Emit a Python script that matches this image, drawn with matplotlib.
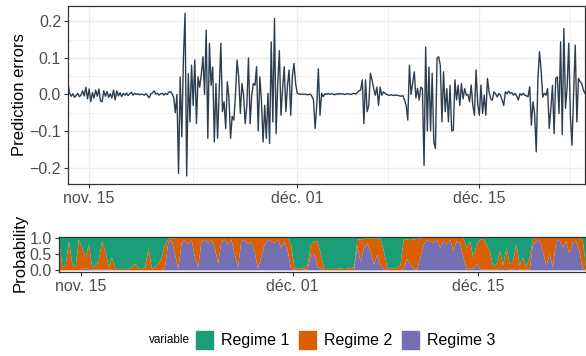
import numpy as np
import pandas as pd
import matplotlib
matplotlib.use("Agg")
import matplotlib.pyplot as plt
from matplotlib.patches import Rectangle

plt.rcParams['font.family'] = ['Liberation Sans', 'DejaVu Sans']

# ---- data -------------------------------------------------------------
err_start = "2017-11-13 09:00"      # 3-hourly prediction errors
errors = [
    0.030, 0.003, -0.005, 0.002, -0.008, -0.003, 0.003, -0.006, -0.002, 0.010,
    -0.004, 0.020, -0.012, 0.015, -0.020, 0.005, -0.010, 0.012, -0.005, 0.015,
    -0.018, -0.020, 0.010, -0.005, 0.008, -0.008, 0.002, -0.010, 0.012, -0.015,
    0.010, -0.004, 0.005, -0.006, 0.003, -0.002, 0.004, -0.003, 0.002, 0.006,
    -0.002, 0.003, 0.000, 0.002, -0.001, 0.001,
    0.000, -0.002, 0.002, -0.004, -0.009, 0.002, 0.004, 0.010, 0.001, 0.003,
    -0.002, 0.002, 0.003, -0.002, 0.003, 0.000, 0.006, 0.008, 0.002, -0.008,
    -0.050, 0.000, -0.216, 0.048, -0.116, 0.100, 0.222, -0.223, 0.057, -0.075,
    0.080, -0.030, 0.094, -0.080, 0.048, 0.020, 0.055, 0.103, 0.000, 0.176,
    -0.120, 0.140, 0.025, 0.075, -0.130, 0.030,
    -0.120, 0.010, 0.140, -0.047, -0.020, -0.093, 0.035, -0.010, -0.120, -0.060,
    -0.070, -0.002, 0.094, 0.048, -0.052, 0.030, -0.002, -0.080, -0.030, 0.100,
    -0.080, -0.002, 0.030, 0.025, 0.076, -0.100, 0.048, -0.020, -0.130, -0.030,
    -0.120, 0.003, -0.134, 0.144, -0.075, 0.208, -0.107, 0.030, 0.120, -0.057,
    0.016, 0.076, -0.047, 0.025, 0.067,
    -0.057, 0.050, 0.085, 0.030, 0.003, 0.002, 0.000, 0.001, 0.000, 0.001,
    -0.001, 0.000, 0.001, -0.005, -0.015, -0.093, -0.030, 0.070, -0.057, 0.003,
    -0.006, 0.002, 0.000, 0.003, 0.000, 0.002, 0.001, -0.001, 0.002, 0.000,
    0.003, 0.001, 0.002, 0.000, 0.001, 0.002, 0.001, 0.000, 0.002, 0.003,
    0.001, 0.005, 0.010, 0.012, 0.040, -0.080,
    0.040, -0.047, -0.030, 0.058, 0.040, 0.017, -0.002, 0.020, -0.030, 0.020,
    -0.002, 0.007, 0.003, 0.000, -0.002, -0.002, -0.001, -0.003, -0.002, -0.002,
    -0.003, -0.004, -0.005, -0.003, -0.015, -0.030, -0.070, 0.080, 0.000, 0.030,
    0.062, -0.010, 0.017, -0.015, 0.020, 0.016, -0.194, 0.130, -0.100, 0.075,
    -0.100, 0.058, -0.130, -0.148, 0.100,
    0.103, 0.080, -0.075, 0.062, -0.047, 0.016, -0.075, 0.025, -0.100, -0.098,
    0.040, -0.015, 0.025, -0.030, 0.030, -0.012, 0.016, -0.002, 0.000, -0.020,
    0.026, -0.030, -0.057, 0.067, -0.025, -0.057, 0.026, -0.052, -0.002, -0.057,
    0.044, 0.007, -0.012, -0.016, 0.007, 0.002, -0.007, 0.003, -0.002, -0.015,
    -0.030, 0.007, 0.002, 0.009, 0.003, 0.005,
    -0.002, 0.003, -0.005, -0.015, 0.002, -0.002, 0.003, -0.002, -0.004, -0.006,
    0.021, -0.084, -0.020, -0.052, -0.157, 0.040, 0.117, 0.067, -0.007, 0.003,
    -0.002, 0.016, -0.093, -0.038, 0.025, -0.107, 0.044, 0.048, -0.052, 0.144,
    -0.110, 0.180, -0.038, 0.020, 0.140, -0.060, -0.139, 0.003, 0.135, -0.075,
    0.044, 0.035, 0.030, 0.012, 0.003,
]

prob_start = "2017-11-13 09:00"     # 6-hourly regime probabilities (%)
regime1 = [
    0, 90, 85, 10, 80, 90, 5, 30, 60, 20,
    90, 85, 70, 10, 40, 90, 60, 95, 96, 95,
    96, 95, 90, 80, 95, 96, 90, 30, 95, 90,
    80, 60, 20, 2, 1, 1, 0, 0, 0, 0,
    0, 0, 0, 0, 0, 0, 0, 0, 0, 0,
    0, 0, 0, 0, 0, 0, 0, 0, 0, 0,
    0, 0, 0, 0, 0, 0, 0, 0, 0, 0,
    20, 90, 95, 95, 90, 85, 20, 10, 10, 50,
    95, 96, 95, 96, 95, 94, 96, 95, 93, 90,
    5, 5, 2, 2, 2, 2, 2, 2, 40, 90,
    95, 95, 90, 85, 5, 5, 3, 5, 3, 2,
    0, 0, 0, 0, 0, 0, 0, 0, 0, 0,
    0, 0, 0, 30, 10, 60, 20, 5, 3, 20,
    40, 90, 80, 40, 85, 30, 80, 70, 20, 85,
    60, 90, 60, 2, 0, 0, 0, 0, 0, 0,
    0, 0, 0, 0, 0, 0, 0, 0, 5, 90,
]
regime2 = [
    100, 10, 15, 90, 20, 10, 95, 65, 35, 75,
    8, 12, 27, 88, 58, 8, 38, 5, 4, 5,
    4, 5, 10, 20, 5, 4, 10, 70, 5, 10,
    20, 40, 70, 10, 5, 50, 95, 15, 8, 20,
    5, 60, 90, 10, 5, 15, 5, 30, 80, 10,
    5, 20, 5, 50, 90, 10, 5, 20, 10, 40,
    95, 60, 20, 5, 10, 15, 5, 30, 10, 40,
    75, 8, 4, 4, 8, 12, 30, 40, 80, 45,
    5, 4, 5, 4, 5, 6, 4, 5, 7, 10,
    20, 70, 30, 15, 40, 80, 50, 85, 55, 8,
    5, 5, 10, 15, 90, 60, 80, 90, 95, 60,
    20, 8, 10, 15, 5, 30, 10, 20, 5, 40,
    10, 15, 60, 65, 85, 35, 60, 90, 95, 78,
    58, 8, 18, 55, 12, 65, 18, 28, 75, 13,
    38, 8, 38, 20, 10, 8, 40, 85, 50, 90,
    10, 5, 30, 10, 50, 15, 10, 40, 90, 8,
]
regime3 = [
    0, 0, 0, 0, 0, 0, 0, 5, 5, 5,
    2, 3, 3, 2, 2, 2, 2, 0, 0, 0,
    0, 0, 0, 0, 0, 0, 0, 0, 0, 0,
    0, 0, 10, 88, 94, 49, 5, 85, 92, 80,
    95, 40, 10, 90, 95, 85, 95, 70, 20, 90,
    95, 80, 95, 50, 10, 90, 95, 80, 90, 60,
    5, 40, 80, 95, 90, 85, 95, 70, 90, 60,
    5, 2, 1, 1, 2, 3, 50, 50, 10, 5,
    0, 0, 0, 0, 0, 0, 0, 0, 0, 0,
    75, 25, 68, 83, 58, 18, 48, 13, 5, 2,
    0, 0, 0, 0, 5, 35, 17, 5, 2, 38,
    80, 92, 90, 85, 95, 70, 90, 80, 95, 60,
    90, 85, 40, 5, 5, 5, 20, 5, 2, 2,
    2, 2, 2, 5, 3, 5, 2, 2, 5, 2,
    2, 2, 2, 78, 90, 92, 60, 15, 50, 10,
    90, 95, 70, 90, 50, 85, 90, 60, 5, 2,
]

regime_names = ["Regime 1", "Regime 2", "Regime 3"]
regime_colors = ["#1B9E77", "#D95F02", "#7570B3"]

ytick_vals = [-0.2, -0.1, 0.0, 0.1, 0.2]
ytick_labels = ["\u22120.2", "\u22120.1", "0.0", "0.1", "0.2"]
ptick_vals = [0.0, 0.5, 1.0]
ptick_labels = ["0.0", "0.5", "1.0"]
date_ticks = ["2017-11-15", "2017-12-01", "2017-12-15"]
date_labels = ["nov. 15", "d\u00e9c. 01", "d\u00e9c. 15"]
date_minor = ["2017-11-07", "2017-11-23", "2017-12-08", "2017-12-22"]

# ---- series ------------------------------------------------------------
t_err = pd.date_range(err_start, periods=len(errors), freq="3h")
t_prob = pd.date_range(prob_start, periods=len(regime1), freq="6h")
p1 = np.array(regime1) / 100.0
p2 = np.array(regime2) / 100.0
p3 = np.array(regime3) / 100.0

# ---- layout ------------------------------------------------------------
W, H = 586, 356
fig = plt.figure(figsize=(W / 100, H / 100), dpi=100)


def box(l, t, r, b):
    return [l / W, 1 - b / H, (r - l) / W, (b - t) / H]


ax1 = fig.add_axes(box(68, 6, 585, 184))
ax2 = fig.add_axes(box(59, 237, 586, 272))

tick_col = "#4D4D4D"
frame_col = "#333333"
grid_col = "#EBEBEB"

for ax in (ax1, ax2):
    for s in ax.spines.values():
        s.set_color(frame_col)
        s.set_linewidth(0.9)
    ax.tick_params(axis="both", which="major", length=3, width=0.8,
                   color=frame_col, labelcolor=tick_col, labelsize=11.5, pad=2)
    ax.tick_params(axis="both", which="minor", length=0)
    ax.set_xticks(pd.to_datetime(date_ticks))
    ax.set_xticklabels(date_labels)
    ax.set_xticks(pd.to_datetime(date_minor), minor=True)

# top panel: prediction errors
ax1.set_axisbelow(True)
ax1.set_yticks(ytick_vals)
ax1.set_yticklabels(ytick_labels)
ax1.set_yticks([-0.15, -0.05, 0.05, 0.15], minor=True)
ax1.grid(True, which="major", color=grid_col, lw=1.0)
ax1.grid(True, which="minor", color=grid_col, lw=0.5)
ax1.plot(t_err, errors, color="#2C3E50", lw=1.0)
ax1.set_xlim(t_err[0], t_err[-1])
ax1.set_ylim(-0.245, 0.242)

# bottom panel: stacked regime probabilities
ax2.stackplot(t_prob, p3, p2, p1,
              colors=[regime_colors[2], regime_colors[1], regime_colors[0]],
              lw=0)
ax2.set_xlim(t_prob[0], t_prob[-1])
ax2.set_ylim(-0.05, 1.03)
ax2.set_yticks(ptick_vals)
ax2.set_yticklabels(ptick_labels)

fig.text(20 / W, 1 - 95 / H, "Prediction errors", rotation=90,
         ha="center", va="center", fontsize=12)
fig.text(20 / W, 1 - 253 / H, "Probability", rotation=90,
         ha="center", va="center", fontsize=12)

# legend
ly = 340
fig.text(190 / W, 1 - ly / H, "variable", ha="right", va="center",
         fontsize=8.5, color="black")
key_x = [196, 299, 402]
for kx, name, col in zip(key_x, regime_names, regime_colors):
    fig.patches.append(Rectangle((kx / W, 1 - (ly + 9) / H), 17 / W, 18 / H,
                                 transform=fig.transFigure, color=col))
    fig.text((kx + 25) / W, 1 - ly / H, name, ha="left", va="center",
             fontsize=11.5, color="black")

fig.savefig("out.png", dpi=100)
